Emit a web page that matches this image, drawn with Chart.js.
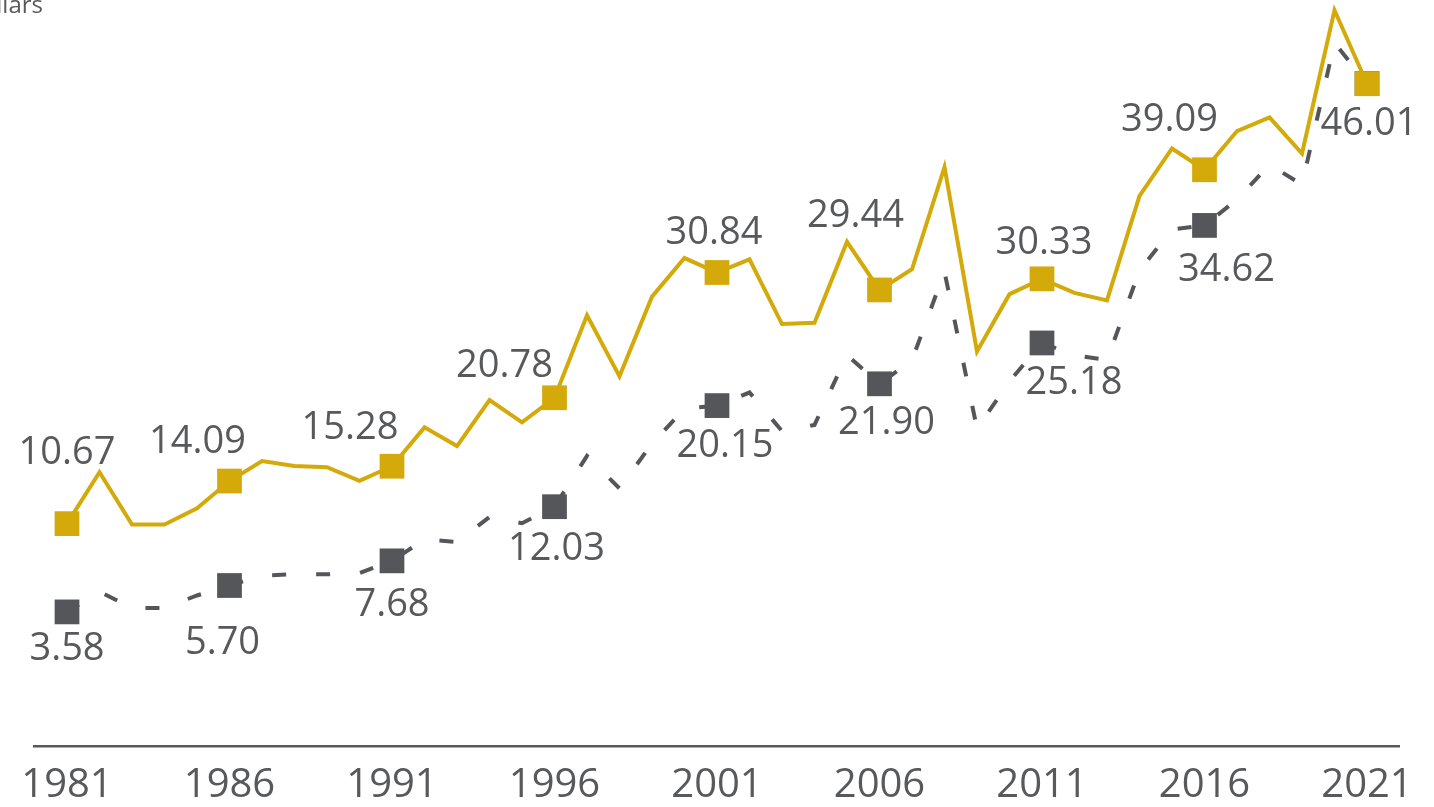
<!DOCTYPE html>
<html>
<head>
<meta charset="utf-8">
<script src="https://cdn.jsdelivr.net/npm/chart.js@4/dist/chart.umd.min.js"></script>
<style>
  body { margin: 0; background: #fff; }
  #wrap { width: 1434px; height: 807px; }
</style>
</head>
<body>
<div id="wrap"><canvas id="lineChart"></canvas></div>
<script>
// years on the x axis
const years = [
  1981, 1982, 1983, 1984, 1985, 1986, 1987, 1988, 1989, 1990,
  1991, 1992, 1993, 1994, 1995, 1996, 1997, 1998, 1999, 2000,
  2001, 2002, 2003, 2004, 2005, 2006, 2007, 2008, 2009, 2010,
  2011, 2012, 2013, 2014, 2015, 2016, 2017, 2018, 2019, 2020,
  2021,
];

// gold solid series
const goldValues = [
  10.67, 14.8, 10.6, 10.6, 11.9, 14.09, 15.7, 15.3, 15.2, 14.1,
  15.28, 18.4, 16.9, 20.6, 18.8, 20.78, 27.4, 22.5, 28.9, 32.0,
  30.84, 31.9, 26.7, 26.8, 33.3, 29.44, 31.1, 39.3, 24.5, 29.1,
  30.33, 29.2, 28.6, 37.0, 40.8, 39.09, 42.2, 43.3, 40.4, 51.9,
  46.0,
];

// grey dashed series
const greyValues = [
  3.58, 5.2, 3.9, 3.9, 4.9, 5.70, 6.5, 6.6, 6.6, 6.7,
  7.68, 9.4, 9.2, 11.2, 10.7, 12.03, 16.1, 13.5, 17.1, 19.9,
  20.15, 21.2, 18.1, 18.6, 24.2, 21.90, 23.8, 30.9, 18.3, 22.1,
  25.18, 24.2, 23.8, 31.0, 34.3, 34.62, 36.7, 39.5, 37.9, 49.3,
  46.01,
];

// tick labels and the years that get a marker + value label
const tickYears = [1981, 1986, 1991, 1996, 2001, 2006, 2011, 2016, 2021];
const goldLabelYears = [1981, 1986, 1991, 1996, 2001, 2006, 2011, 2016];
const greyLabelYears = [1981, 1986, 1991, 1996, 2001, 2006, 2011, 2016, 2021];

// label nudges (px) from the marker centre, placed by hand like the original
const goldLabelShift = [[0, -73], [-32, -42], [-42, -41], [-50, -34], [-3, -42], [-24, -76], [2, -38], [-35, -52]];
const greyLabelShift = [[0, 35], [-7, 55], [0, 42], [2, 40], [8, 38], [7, 37], [32, 37], [22, 42], [2, 38]];

const GOLD = "#d4a90a";
const GREY = "#55565a";
const TEXT = "#58595b";
const FONT = "'Open Sans', 'Noto Sans', sans-serif";

// square markers only on the labelled years
function markerSize(ctx) {
  return tickYears.includes(years[ctx.dataIndex]) ? 17.5 : 0;
}

// draws the value labels and the cut-off unit text at the top left
const valueLabels = {
  id: "valueLabels",
  afterDatasetsDraw(chart) {
    const c = chart.ctx;
    const size = 38;
    c.save();
    c.font = size + "px " + FONT;
    c.fillStyle = TEXT;
    c.textAlign = "center";
    c.textBaseline = "alphabetic";

    const sets = [
      { idx: 0, values: goldValues, labelYears: goldLabelYears, shift: goldLabelShift },
      { idx: 1, values: greyValues, labelYears: greyLabelYears, shift: greyLabelShift },
    ];
    sets.forEach((s) => {
      const meta = chart.getDatasetMeta(s.idx);
      s.labelYears.forEach((yr, k) => {
        const i = years.indexOf(yr);
        const pt = meta.data[i];
        const [dx, dy] = s.shift[k];
        // dy is to the middle of the digits, so drop to the baseline
        c.fillText(s.values[i].toFixed(2), pt.x + dx, pt.y + dy + size * 0.357);
      });
    });

    c.font = "24px " + FONT;
    c.textAlign = "right";
    c.fillText("Dollars", 43, 13);
    c.restore();
  },
};

const ctx = document.getElementById("lineChart").getContext("2d");

new Chart(ctx, {
  type: "line",
  data: {
    labels: years,
    datasets: [
      {
        label: "Gold",
        data: years.map((y, i) => ({ x: y, y: goldValues[i] })),
        borderColor: GOLD,
        backgroundColor: GOLD,
        borderWidth: 4,
        pointStyle: "rect",
        pointRadius: markerSize,
        pointBorderWidth: 0,
        pointBackgroundColor: GOLD,
        tension: 0,
        clip: false,
      },
      {
        label: "Grey",
        data: years.map((y, i) => ({ x: y, y: greyValues[i] })),
        borderColor: GREY,
        backgroundColor: GREY,
        borderWidth: 4,
        borderDash: [14, 30],
        pointStyle: "rect",
        pointRadius: markerSize,
        pointBorderWidth: 0,
        pointBackgroundColor: GREY,
        tension: 0,
        clip: false,
      },
    ],
  },
  options: {
    responsive: true,
    maintainAspectRatio: false,
    animation: false,
    events: [],
    // the big end markers force ~17.5px of top padding, the y range below allows for it
    layout: { padding: { left: 34.5, right: 34.5, top: 0, bottom: -19 } },
    plugins: {
      legend: { display: false },
      tooltip: { enabled: false },
    },
    scales: {
      x: {
        type: "linear",
        min: 1980,
        max: 2022,
        afterBuildTicks: (axis) => {
          axis.ticks = tickYears.map((v) => ({ value: v }));
        },
        grid: { display: false, drawTicks: false },
        border: { display: true, color: TEXT, width: 2.5 },
        ticks: {
          autoSkip: false,
          maxRotation: 0,
          padding: 16,
          color: TEXT,
          font: { family: FONT, size: 40 },
          callback: (v) => String(v),
        },
      },
      y: {
        display: false,
        min: -7.19,
        max: 51.32,
      },
    },
  },
  plugins: [valueLabels],
});
</script>
</body>
</html>
